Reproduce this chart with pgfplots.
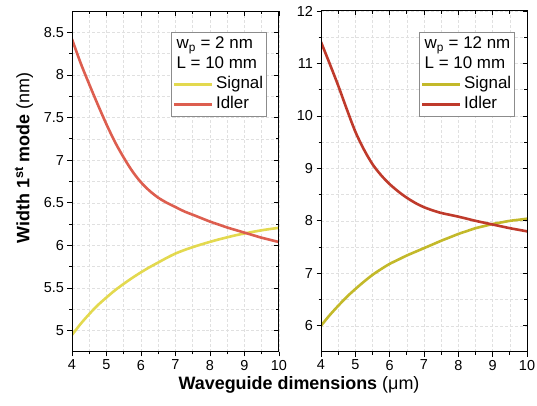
\documentclass[border=0pt]{standalone}
\usepackage{pgfplots}
\pgfplotsset{compat=1.18}
\usepackage{fontspec}
\setmainfont{Liberation Sans}
\definecolor{sigL}{HTML}{E3D94F}
\definecolor{idlL}{HTML}{DD5E4F}
\definecolor{sigR}{HTML}{C3B92A}
\definecolor{idlR}{HTML}{BF3A2B}
\pgfplotsset{
  common/.style={
    scale only axis, height=341bp,
    xmin=4, xmax=10, xtick={4,...,10}, minor x tick num=1,
    tick align=outside, xtick pos=bottom, ytick pos=left,
    major tick length=4.5bp, minor tick length=2.5bp,
    every tick/.style={black, line width=0.8bp},
    axis line style={line width=1bp},
    grid=both,
    major grid style={densely dashed, black!12, line width=0.5bp},
    minor grid style={densely dashed, black!12, line width=0.5bp},
    tick label style={font=\fontsize{14.5}{15}\selectfont},
    /pgf/number format/assume math mode=true,
    legend image code/.code={\draw[##1] (0bp,0bp) -- (38bp,0bp);},
    legend cell align=left,
    legend style={at={(0.942,0.938)}, anchor=north east, draw=black!45,
      line width=0.6bp, font=\fontsize{17}{17}\selectfont, inner sep=2bp,
      column sep=1bp, row sep=0bp,
      nodes={inner sep=1.5bp, text height=12.5bp, text depth=4.5bp}},
  },
  frame/.style={
    scale only axis, height=341bp,
    xmin=4, xmax=10, xtick={4,...,10}, minor x tick num=1,
    tick align=inside, xtick pos=top, ytick pos=right,
    xticklabels={}, yticklabels={},
    major tick length=4.5bp, minor tick length=3bp,
    every tick/.style={black, line width=0.8bp},
    axis line style={line width=1bp},
  },
}
\pgfplotstableread{
x sig idl
4 4.95 8.42
4.25 5.08 8.14
4.5 5.195 7.89
4.75 5.30 7.65
5 5.39 7.42
5.25 5.475 7.21
5.5 5.55 7.03
5.75 5.62 6.87
6 5.685 6.74
6.25 5.745 6.64
6.5 5.80 6.56
6.75 5.855 6.50
7 5.905 6.45
7.25 5.945 6.40
7.5 5.98 6.36
7.75 6.012 6.32
8 6.042 6.28
8.25 6.07 6.245
8.5 6.095 6.21
8.75 6.12 6.18
9 6.14 6.15
9.25 6.16 6.12
9.5 6.178 6.09
9.75 6.193 6.065
10 6.207 6.04
}\leftdata
\pgfplotstableread{
x sig idl
4 6.00 11.41
4.25 6.20 11.00
4.5 6.38 10.58
4.75 6.55 10.13
5 6.70 9.70
5.25 6.84 9.36
5.5 6.97 9.08
5.75 7.08 8.87
6 7.18 8.70
6.25 7.26 8.56
6.5 7.34 8.44
6.75 7.41 8.34
7 7.48 8.26
7.25 7.55 8.20
7.5 7.62 8.15
7.75 7.685 8.115
8 7.75 8.08
8.25 7.805 8.04
8.5 7.86 8.00
8.75 7.90 7.965
9 7.94 7.93
9.25 7.97 7.895
9.5 8.00 7.86
9.75 8.02 7.83
10 8.04 7.80
}\rightdata
\begin{document}
\begin{tikzpicture}
\useasboundingbox (0,0) rectangle (537bp,406bp);
% left
\begin{axis}[common, at={(72bp,54bp)}, anchor=south west, width=207bp,
  ymin=4.75, ymax=8.75, ytick={5,5.5,...,8.5}, minor y tick num=1]
\addlegendimage{empty legend}
\addlegendentry{\hspace*{-39.5bp}w\textsubscript{p} = 2 nm}
\addlegendimage{empty legend}
\addlegendentry{\hspace*{-39.5bp}L = 10 mm}
\addplot[sigL, line width=2.6bp, smooth] table[x=x, y=sig] {\leftdata};
\addlegendentry{Signal}
\addplot[idlL, line width=2.6bp, smooth] table[x=x, y=idl] {\leftdata};
\addlegendentry{Idler}
\end{axis}
\begin{axis}[frame, at={(72bp,54bp)}, anchor=south west, width=207bp,
  ymin=4.75, ymax=8.75, ytick={5,5.5,...,8.5}, minor y tick num=1]
\end{axis}
% right
\begin{axis}[common, at={(321bp,54bp)}, anchor=south west, width=206bp,
  ymin=5.5, ymax=12, ytick={6,7,...,12}, minor y tick num=1]
\addlegendimage{empty legend}
\addlegendentry{\hspace*{-39.5bp}w\textsubscript{p} = 12 nm}
\addlegendimage{empty legend}
\addlegendentry{\hspace*{-39.5bp}L = 10 mm}
\addplot[sigR, line width=2.6bp, smooth] table[x=x, y=sig] {\rightdata};
\addlegendentry{Signal}
\addplot[idlR, line width=2.6bp, smooth] table[x=x, y=idl] {\rightdata};
\addlegendentry{Idler}
\end{axis}
\begin{axis}[frame, at={(321bp,54bp)}, anchor=south west, width=206bp,
  ymin=5.5, ymax=12, ytick={6,7,...,12}, minor y tick num=1]
\end{axis}
\node[rotate=90, anchor=west, font=\fontsize{18}{18}\selectfont] at (24bp,159bp)
  {\textbf{Width 1\textsuperscript{st} mode} (nm)};
\node[font=\fontsize{18}{18}\selectfont] at (299bp,21bp)
  {\textbf{Waveguide dimensions} (μm)};
\end{tikzpicture}
\end{document}
